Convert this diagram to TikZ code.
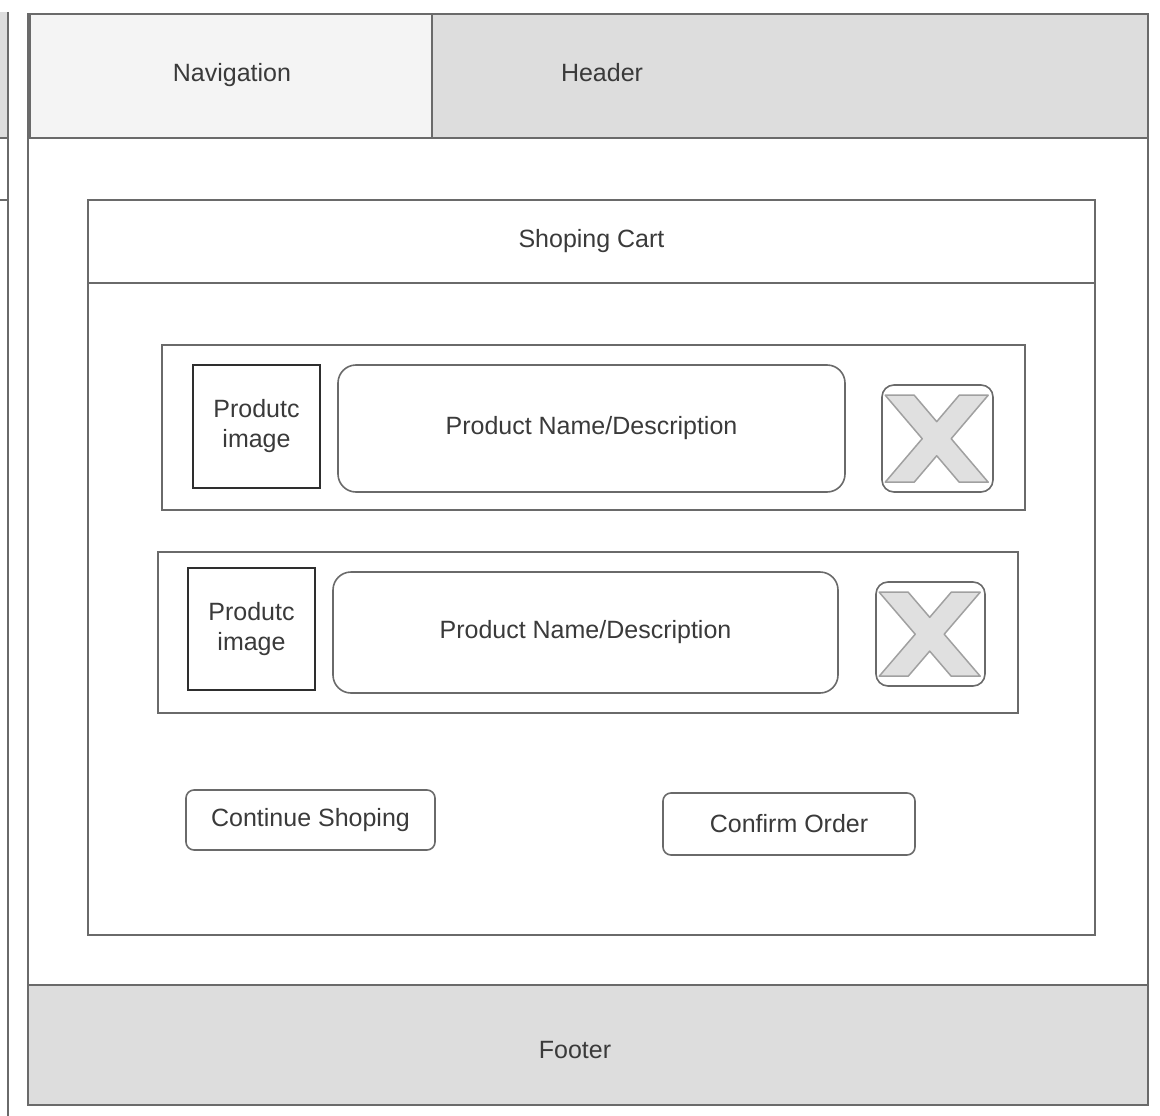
\documentclass[tikz,border=0pt]{standalone}
\usepackage{fontspec}
\setmainfont{Liberation Sans}
\definecolor{ink}{HTML}{3A3A3A}
\definecolor{edge}{HTML}{6A6A6A}
\definecolor{darkedge}{HTML}{2E2E2E}
\definecolor{barfill}{HTML}{DDDDDD}
\definecolor{navfill}{HTML}{F4F4F4}
\definecolor{crossfill}{HTML}{E0E0E0}
\definecolor{crossedge}{HTML}{A0A0A0}
\begin{document}
\begin{tikzpicture}[x=1pt,y=-1pt,
  every node/.style={font=\fontsize{25}{30}\selectfont, text=ink, align=center, inner sep=0pt},
  panel/.style={draw=edge, line width=1.4pt},
  bar/.style={panel, fill=barfill},
  navbar/.style={panel, fill=navfill},
  rowbox/.style={draw=edge, line width=1.6pt},
  imgbox/.style={draw=darkedge, line width=2pt},
  namebox/.style={draw=edge, line width=1.6pt, rounded corners=18pt},
  delbox/.style={draw=edge, line width=1.6pt, rounded corners=12pt},
  btnbox/.style={draw=edge, line width=1.6pt, rounded corners=8pt},
  crossmark/.style={fill=crossfill, draw=crossedge, line width=1.5pt, line join=round},
]
\useasboundingbox (0,0) rectangle (1160,1116);

% neighbouring page at the left edge
\fill[barfill] (-2,12) rectangle (8,138);
\draw[edge, line width=1.4pt] (0,138) -- (8,138);
\draw[edge, line width=1.4pt] (0,200) -- (8,200);
\draw[edge, line width=1.4pt] (8,12) -- (8,1116);

% page frame
\node[panel, minimum width=1120pt, minimum height=1091pt] (frame) at (588,559.5) {};

% top bars
\node[navbar, minimum width=402pt, minimum height=124pt] (nav) at (231,76) {};
\node at (232,75) {Navigation};
\node[bar, minimum width=716pt, minimum height=124pt] (head) at (790,76) {};
\node at (602,73) {Header};

% footer
\node[bar, minimum width=1120pt, minimum height=120pt] (foot) at (588,1045) {};
\node at (575,1050) {Footer};

% shopping cart panel
\node[panel, minimum width=1007pt, minimum height=735pt] (cart) at (591.5,567.5) {};
\node[panel, minimum width=1007pt, minimum height=83pt] (carttitle) at (591.5,241.5) {Shoping Cart};

% cart line 1
\node[rowbox, minimum width=863pt, minimum height=165pt] (row1) at (593.5,427.5) {};
\node[imgbox, minimum width=127pt, minimum height=123pt] (img1) at (256.5,426.5) {Produtc\\image};
\node[namebox, minimum width=507pt, minimum height=127pt] (name1) at (591.5,428.5) {Product Name/Description};
\node[delbox, minimum width=111pt, minimum height=107pt] (del1) at (937.5,438.5) {};

% cart line 2
\node[rowbox, minimum width=860pt, minimum height=161pt] (row2) at (588,632.5) {};
\node[imgbox, minimum width=127pt, minimum height=122pt] (img2) at (251.5,629) {Produtc\\image};
\node[namebox, minimum width=505pt, minimum height=121pt] (name2) at (585.5,632.5) {Product Name/Description};
\node[delbox, minimum width=109pt, minimum height=104pt] (del2) at (930.5,634) {};

% remove icons: a bold outlined X inside each button
% local frame: origin at the button's top left, w x h, side inset m, top T, bottom B, arm width t
\foreach \d/\w/\h in {del1/111/107, del2/109/104}{
  \begin{scope}[shift={(\d.north west)}]
    \pgfmathsetmacro{\m}{4}
    \pgfmathsetmacro{\T}{11}
    \pgfmathsetmacro{\B}{\h-9}
    \pgfmathsetmacro{\t}{29}
    \pgfmathsetmacro{\cx}{\w/2}
    \pgfmathsetmacro{\cy}{(\T+\B)/2}
    \pgfmathsetmacro{\ny}{(\B-\T)*(\w/2-\m-\t)/(\w-2*\m-\t)}
    \path[crossmark]
      (\m,\T) -- ({\m+\t},\T) -- (\cx,{\T+\ny}) -- ({\w-\m-\t},\T) -- ({\w-\m},\T)
      -- ({\cx+\t/2},\cy) -- ({\w-\m},\B) -- ({\w-\m-\t},\B) -- (\cx,{\B-\ny})
      -- ({\m+\t},\B) -- (\m,\B) -- ({\cx-\t/2},\cy) -- cycle;
  \end{scope}
}

% buttons
\node[btnbox, minimum width=249pt, minimum height=60pt] (cont) at (310.5,820) {Continue Shoping};
\node[btnbox, minimum width=252pt, minimum height=62pt] (confirm) at (789,824) {Confirm Order};
\end{tikzpicture}
\end{document}
